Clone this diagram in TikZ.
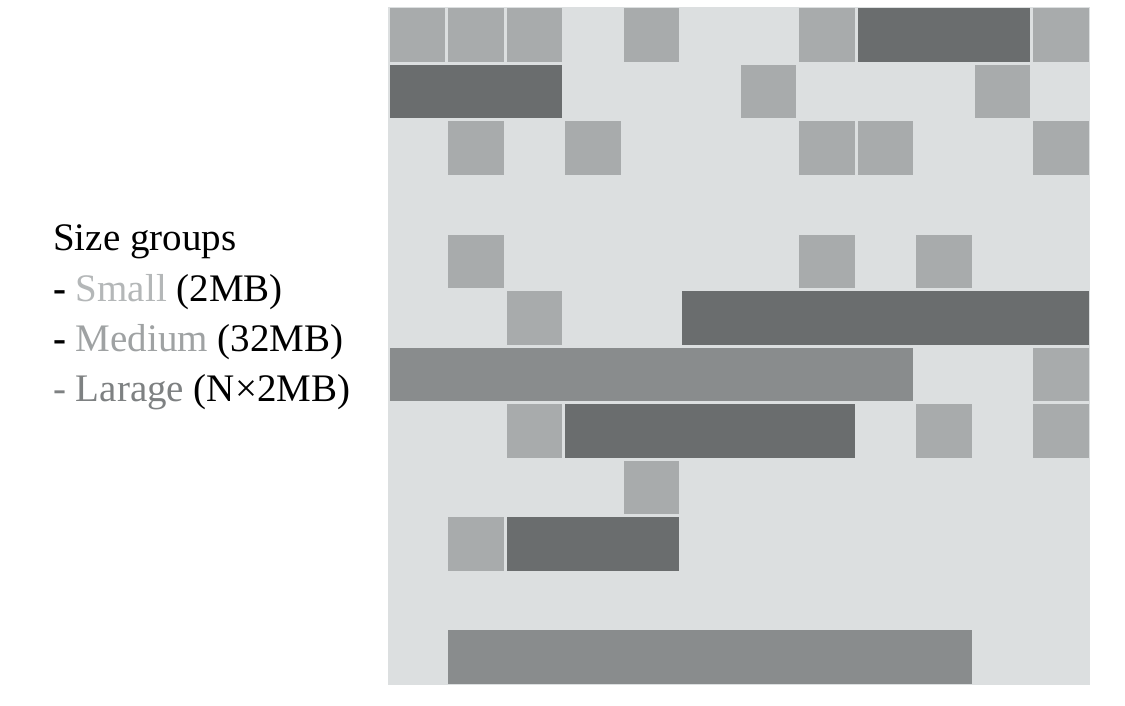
\documentclass[tikz,border=0pt]{standalone}
\usepackage{fontspec}
\setmainfont{Liberation Serif}
\definecolor{bgc}{HTML}{DCDFE0}
\definecolor{smc}{HTML}{A8ABAC}
\definecolor{mdc}{HTML}{6A6D6E}
\definecolor{lgc}{HTML}{898C8D}
\definecolor{txs}{HTML}{B4B7B8}
\definecolor{txm}{HTML}{9FA2A3}
\definecolor{txl}{HTML}{7E8182}
\newcommand{\blk}[4]{\fill[#4] ({388+(#1-1)*58.5+1.5},{7+(#2-1)*56.5+1.5}) rectangle ++({#3*58.5-3},{56.5-3});}
\tikzset{legendtext/.style={anchor=base west, inner sep=0pt, font=\fontsize{39}{44}\selectfont}}
\begin{document}
\begin{tikzpicture}[x=1pt,y=-1pt]
\useasboundingbox (0,0) rectangle (1125,706);
\fill[white] (0,0) rectangle (1125,706);
\fill[bgc] (388,7) rectangle (1090,685);
% row 1
\blk{1}{1}{1}{smc}\blk{2}{1}{1}{smc}\blk{3}{1}{1}{smc}\blk{5}{1}{1}{smc}\blk{8}{1}{1}{smc}\blk{9}{1}{3}{mdc}\blk{12}{1}{1}{smc}
% row 2
\blk{1}{2}{3}{mdc}\blk{7}{2}{1}{smc}\blk{11}{2}{1}{smc}
% row 3
\blk{2}{3}{1}{smc}\blk{4}{3}{1}{smc}\blk{8}{3}{1}{smc}\blk{9}{3}{1}{smc}\blk{12}{3}{1}{smc}
% row 5
\blk{2}{5}{1}{smc}\blk{8}{5}{1}{smc}\blk{10}{5}{1}{smc}
% row 6
\blk{3}{6}{1}{smc}\blk{6}{6}{7}{mdc}
% row 7
\blk{1}{7}{9}{lgc}\blk{12}{7}{1}{smc}
% row 8
\blk{3}{8}{1}{smc}\blk{4}{8}{5}{mdc}\blk{10}{8}{1}{smc}\blk{12}{8}{1}{smc}
% row 9
\blk{5}{9}{1}{smc}
% row 10
\blk{2}{10}{1}{smc}\blk{3}{10}{3}{mdc}
% row 12
\blk{2}{12}{9}{lgc}
% legend
\node[legendtext] (title) at (53,250) {Size groups};
\node[legendtext] (small) at (53,301) {\textbf{-} \textcolor{txs}{Small} (2MB)};
\node[legendtext] (medium) at (53,351) {\textbf{-} \textcolor{txm}{Medium} (32MB)};
\node[legendtext] (large) at (53,401) {\textcolor{txl}{- Larage} (N×2MB)};
\end{tikzpicture}
\end{document}
